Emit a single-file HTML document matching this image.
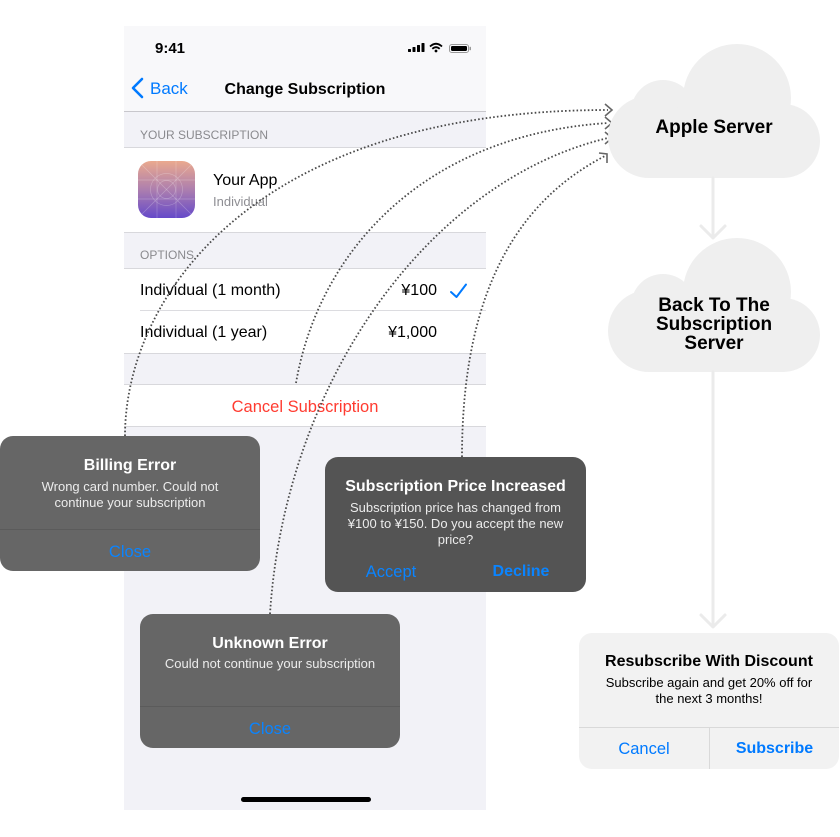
<!DOCTYPE html>
<html><head><meta charset="utf-8">
<style>
*{margin:0;padding:0;box-sizing:border-box}
html,body{width:840px;height:837px;background:#fff;overflow:hidden}
body{position:relative;font-family:"Liberation Sans",Arial,sans-serif}
.a{position:absolute;white-space:nowrap}
.phone{position:absolute;left:124px;top:26px;width:362px;height:784px;background:#f2f2f7;overflow:hidden}
.line{position:absolute;left:0;width:362px;height:1px;background:#d8d8dc}
.white{position:absolute;left:0;width:362px;background:#fff}
.alert{position:absolute;border-radius:13px;color:#fff;text-align:center}
.alert .t{position:absolute;left:0;right:0;font-weight:bold;font-size:16px;line-height:20px}
.alert .m{position:absolute;left:0;right:0;font-size:13px;line-height:16px;color:#ececec}
.alert .b{position:absolute;font-size:16.5px;line-height:20px;color:#0a84ff}
</style></head><body>

<div class="phone">
  <div style="position:absolute;left:0;top:0;width:362px;height:85px;background:#f8f8fa"></div>
  <div class="line" style="top:85px;background:#c8c7cc"></div>
  <div class="white" style="top:121px;height:85px"></div>
  <div class="line" style="top:121px"></div>
  <div class="line" style="top:206px"></div>
  <div class="white" style="top:242px;height:85px"></div>
  <div class="line" style="top:242px"></div>
  <div style="position:absolute;left:16px;top:284px;width:346px;height:1px;background:#dcdce0"></div>
  <div class="line" style="top:327px"></div>
  <div class="white" style="top:358px;height:42px"></div>
  <div class="line" style="top:358px"></div>
  <div class="line" style="top:400px"></div>
  <div style="position:absolute;left:117px;top:771px;width:130px;height:5px;border-radius:3px;background:#000"></div>
</div>

<!-- phone text -->
<div class="a" style="left:155px;top:39.5px;font-size:15px;font-weight:bold;line-height:18px;color:#000">9:41</div>
<svg class="a" style="left:0;top:0" width="840" height="837">
  <!-- status -->
  <rect x="408" y="49" width="3" height="3" rx="0.6" fill="#000"/>
  <rect x="412.5" y="47" width="3" height="5" rx="0.6" fill="#000"/>
  <rect x="417" y="45" width="3" height="7" rx="0.6" fill="#000"/>
  <rect x="421.5" y="43" width="3" height="9" rx="0.6" fill="#000"/>
  <path d="M430 46.5 Q436 41 442 46.5" stroke="#000" stroke-width="1.8" fill="none"/>
  <path d="M432.3 48.8 Q436 45.5 439.7 48.8" stroke="#000" stroke-width="1.8" fill="none"/>
  <circle cx="436" cy="51" r="1.4" fill="#000"/>
  <rect x="449.5" y="44.5" width="19" height="8" rx="2.3" fill="none" stroke="#999" stroke-width="1"/>
  <rect x="451" y="46" width="16" height="5" rx="1.2" fill="#000"/>
  <rect x="469.5" y="46.8" width="1.5" height="3.5" rx="0.7" fill="#999"/>
  <!-- back chevron -->
  <polyline points="142,79 133,88 142,97" fill="none" stroke="#007aff" stroke-width="2.6" stroke-linecap="round" stroke-linejoin="round"/>
  <!-- app icon -->
  <defs>
    <linearGradient id="ig" x1="0" y1="0" x2="0" y2="1">
      <stop offset="0" stop-color="#eaa98e"/>
      <stop offset="0.5" stop-color="#ad7fae"/>
      <stop offset="1" stop-color="#6549c9"/>
    </linearGradient>
  </defs>
  <rect x="138" y="161" width="57" height="57" rx="13" fill="url(#ig)"/>
  <g stroke="#fff" stroke-opacity="0.25" stroke-width="0.7" fill="none">
    <line x1="138" y1="161" x2="195" y2="218"/><line x1="195" y1="161" x2="138" y2="218"/>
    <line x1="157" y1="161" x2="157" y2="218"/><line x1="176" y1="161" x2="176" y2="218"/>
    <line x1="138" y1="180" x2="195" y2="180"/><line x1="138" y1="199" x2="195" y2="199"/>
    <circle cx="166.5" cy="189.5" r="16"/><circle cx="166.5" cy="189.5" r="9"/>
  </g>
  <!-- check -->
  <polyline points="451,292 456.5,297 466,284.5" fill="none" stroke="#007aff" stroke-width="2" stroke-linecap="round" stroke-linejoin="round"/>
</svg>
<div class="a" style="left:150px;top:79px;font-size:17px;line-height:20px;color:#007aff">Back</div>
<div class="a" style="left:205px;top:79.5px;width:200px;text-align:center;font-size:16px;font-weight:bold;line-height:20px;color:#000">Change Subscription</div>
<div class="a" style="left:140px;top:127px;font-size:12px;line-height:16px;color:#8a8a8e">YOUR SUBSCRIPTION</div>
<div class="a" style="left:213px;top:171px;font-size:16px;line-height:20px;color:#000">Your App</div>
<div class="a" style="left:213px;top:194px;font-size:13px;line-height:16px;color:#8e8e93">Individual</div>
<div class="a" style="left:140px;top:247px;font-size:12px;line-height:16px;color:#8a8a8e">OPTIONS</div>
<div class="a" style="left:140px;top:281px;font-size:16px;line-height:20px;color:#000">Individual (1 month)</div>
<div class="a" style="left:337px;top:281px;width:100px;text-align:right;font-size:16px;line-height:20px;color:#000">¥100</div>
<div class="a" style="left:140px;top:323px;font-size:16px;line-height:20px;color:#000">Individual (1 year)</div>
<div class="a" style="left:337px;top:323px;width:100px;text-align:right;font-size:16px;line-height:20px;color:#000">¥1,000</div>
<div class="a" style="left:155px;top:397px;width:300px;text-align:center;font-size:16.5px;line-height:20px;color:#ff3b30">Cancel Subscription</div>

<!-- connectors + clouds -->
<svg class="a" style="left:0;top:0" width="840" height="837">
  <g fill="none" stroke="#4a4a4a" stroke-width="1.8" stroke-dasharray="1.6 2.2">
    <path d="M125,436 C125,300 250,110 608,110"/>
    <path d="M296,383 C318,255 420,135 608,123"/>
    <path d="M270,614 C285,380 430,180 608,138"/>
    <path d="M462,457 C462,320 500,210 605,156"/>
  </g>
  <g fill="none" stroke="#666" stroke-width="1.6" stroke-linejoin="miter">
    <polyline points="605,104 612,110 605,116"/>
    <polyline points="605,117 612,123 605,129"/>
    <polyline points="605,132 612,138 605,144"/>
    <polyline points="599,153 607,154 607,163"/>
  </g>
  <!-- cloud 1 -->
  <g fill="#efefef">
    <circle cx="737" cy="98" r="54"/>
    <circle cx="663" cy="112" r="32"/>
    <circle cx="649" cy="137" r="41"/>
    <circle cx="783" cy="141" r="37"/>
    <rect x="649" y="110" width="134" height="68"/>
  </g>
  <g fill="#efefef" transform="translate(0,194)">
    <circle cx="737" cy="98" r="54"/>
    <circle cx="663" cy="112" r="32"/>
    <circle cx="649" cy="137" r="41"/>
    <circle cx="783" cy="141" r="37"/>
    <rect x="649" y="110" width="134" height="68"/>
  </g>
  <g fill="none" stroke="#ebebeb" stroke-width="3" stroke-linecap="round" stroke-linejoin="round">
    <line x1="713" y1="178" x2="713" y2="237"/>
    <polyline points="701,226 713,238 725,226"/>
    <line x1="713" y1="372" x2="713" y2="626"/>
    <polyline points="701,615 713,627 725,615"/>
  </g>
</svg>
<div class="a" style="left:614px;top:117px;width:200px;text-align:center;font-size:19px;font-weight:bold;line-height:22px;color:#000">Apple Server</div>
<div class="a" style="left:614px;top:296px;width:200px;text-align:center;font-size:19px;font-weight:bold;line-height:19px;color:#000;white-space:normal">Back To The<br>Subscription<br>Server</div>

<!-- Billing Error -->
<div class="alert" style="left:0;top:436px;width:260px;height:135px;background:#666">
  <div class="t" style="top:20px">Billing Error</div>
  <div class="m" style="top:43px">Wrong card number. Could not<br>continue your subscription</div>
  <div style="position:absolute;left:0;right:0;top:93px;height:1px;background:#5b5b5b"></div>
  <div class="b" style="left:0;right:0;top:106px">Close</div>
</div>

<!-- Price Increased -->
<div class="alert" style="left:325px;top:457px;width:261px;height:135px;background:#545454">
  <div class="t" style="top:20px">Subscription Price Increased</div>
  <div class="m" style="top:43px">Subscription price has changed from<br>¥100 to ¥150. Do you accept the new<br>price?</div>
  <div class="b" style="left:16px;width:100px;top:105px">Accept</div>
  <div class="b" style="left:146px;width:100px;top:105px;font-weight:bold;font-size:16px">Decline</div>
</div>

<!-- Unknown Error -->
<div class="alert" style="left:140px;top:614px;width:260px;height:134px;background:#666">
  <div class="t" style="top:20px">Unknown Error</div>
  <div class="m" style="top:42px">Could not continue your subscription</div>
  <div style="position:absolute;left:0;right:0;top:92px;height:1px;background:#5b5b5b"></div>
  <div class="b" style="left:0;right:0;top:105px">Close</div>
</div>

<!-- Resubscribe -->
<div class="alert" style="left:579px;top:633px;width:260px;height:136px;background:#f2f2f2;color:#000">
  <div class="t" style="top:19px">Resubscribe With Discount</div>
  <div class="m" style="top:42px;color:#000">Subscribe again and get 20% off for<br>the next 3 months!</div>
  <div style="position:absolute;left:0;right:0;top:94px;height:1px;background:#d9d9d9"></div>
  <div style="position:absolute;left:130px;top:94px;width:1px;height:42px;background:#d9d9d9"></div>
  <div class="b" style="left:0;width:130px;top:106px;color:#007aff">Cancel</div>
  <div class="b" style="left:131px;width:129px;top:106px;color:#007aff;font-weight:bold;font-size:16px">Subscribe</div>
</div>

</body></html>
